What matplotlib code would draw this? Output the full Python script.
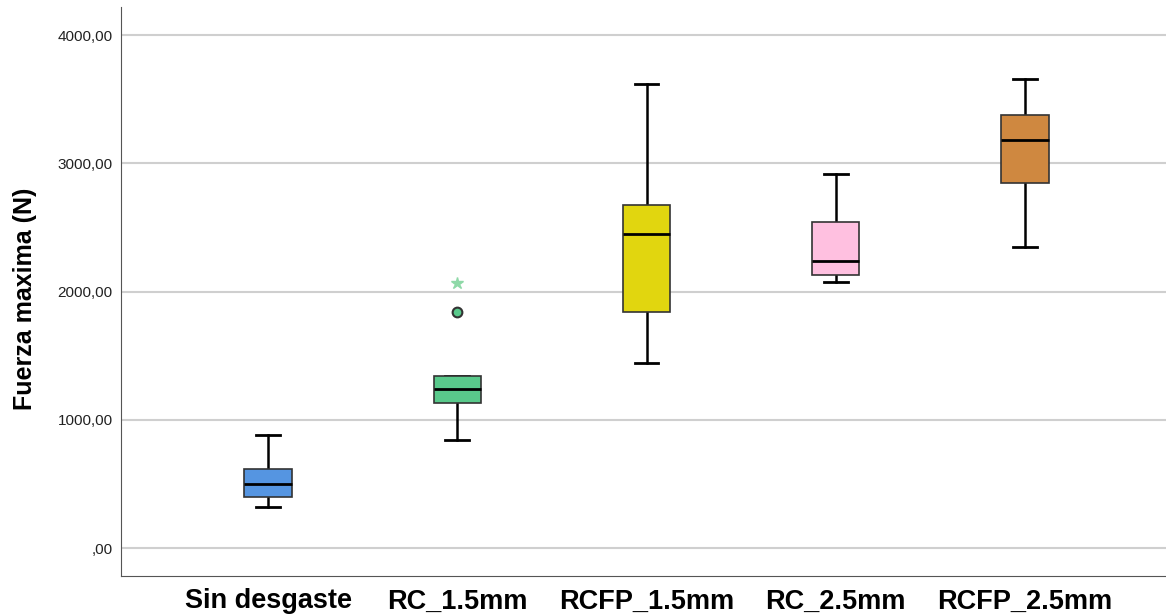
import matplotlib
matplotlib.use("Agg")
import matplotlib.pyplot as plt
from matplotlib.ticker import FuncFormatter

plt.rcParams['font.family'] = ['Liberation Sans', 'DejaVu Sans']

# valores
grupos = ['Sin desgaste', 'RC_1.5mm', 'RCFP_1.5mm', 'RC_2.5mm', 'RCFP_2.5mm']
bigote_inf = [323, 842, 1447, 2076, 2351]
q1 = [397, 1133, 1840, 2130, 2845]
mediana = [501, 1244, 2447, 2239, 3180]
q3 = [616, 1345, 2676, 2546, 3380]
bigote_sup = [885, 1345, 3617, 2915, 3658]
atipicos = [[], [1844], [], [], []]
extremos = [[], [2066], [], [], []]
colores = ['#5595e1', '#59c98b', '#e1d60f', '#ffc0e0', '#cf8840']
yticks = [0, 1000, 2000, 3000, 4000]

stats = []
for i in range(len(grupos)):
    stats.append({'whislo': bigote_inf[i], 'q1': q1[i], 'med': mediana[i],
                  'q3': q3[i], 'whishi': bigote_sup[i], 'fliers': atipicos[i],
                  'label': grupos[i]})

fig = plt.figure(figsize=(11.66, 6.16), dpi=100)
ax = fig.add_axes([121 / 1166, 1 - 576 / 616, 1045 / 1166, 569 / 616])

pos = list(range(1, len(grupos) + 1))
bp = ax.bxp(stats, positions=pos, widths=0.25, patch_artist=True,
            capwidths=0.125,
            boxprops=dict(edgecolor='#333333', linewidth=1.2),
            medianprops=dict(color='black', linewidth=2),
            whiskerprops=dict(color='black', linewidth=1.8),
            capprops=dict(color='black', linewidth=2),
            flierprops=dict(marker='o', markersize=7, markerfacecolor='#59c98b',
                            markeredgecolor='#333333', markeredgewidth=1.5),
            zorder=3)
for patch, c in zip(bp['boxes'], colores):
    patch.set_facecolor(c)
    patch.set_zorder(4)
for m in bp['medians']:
    m.set_zorder(5)

for p, ext in zip(pos, extremos):
    for v in ext:
        ax.plot(p, v, marker='*', markersize=9, color='#8fd9a8', zorder=3,
                linestyle='none')

ax.set_xlim(0.223, 5.745)
ax.set_ylim(-216, 4219)
ax.set_yticks(yticks)
ax.yaxis.set_major_formatter(FuncFormatter(
    lambda v, _: ',00' if v == 0 else '%d,00' % v))
ax.grid(axis='y', color='#cfcfcf', linewidth=1.5, zorder=0)
ax.set_axisbelow(True)
ax.tick_params(axis='y', length=0, labelsize=11, pad=6, colors='#222222')
ax.tick_params(axis='x', length=0, labelsize=19.5, pad=9)
ax.set_xticks(pos)
ax.set_xticklabels(grupos, fontweight='bold')

ax.spines['top'].set_visible(False)
ax.spines['right'].set_visible(False)
ax.spines['left'].set_color('#555555')
ax.spines['bottom'].set_color('#555555')

ax.set_ylabel('Fuerza maxima (N)', fontsize=18, fontweight='bold')
ax.yaxis.set_label_coords(-0.080, 0.487)

plt.savefig('out.png', dpi=100)
